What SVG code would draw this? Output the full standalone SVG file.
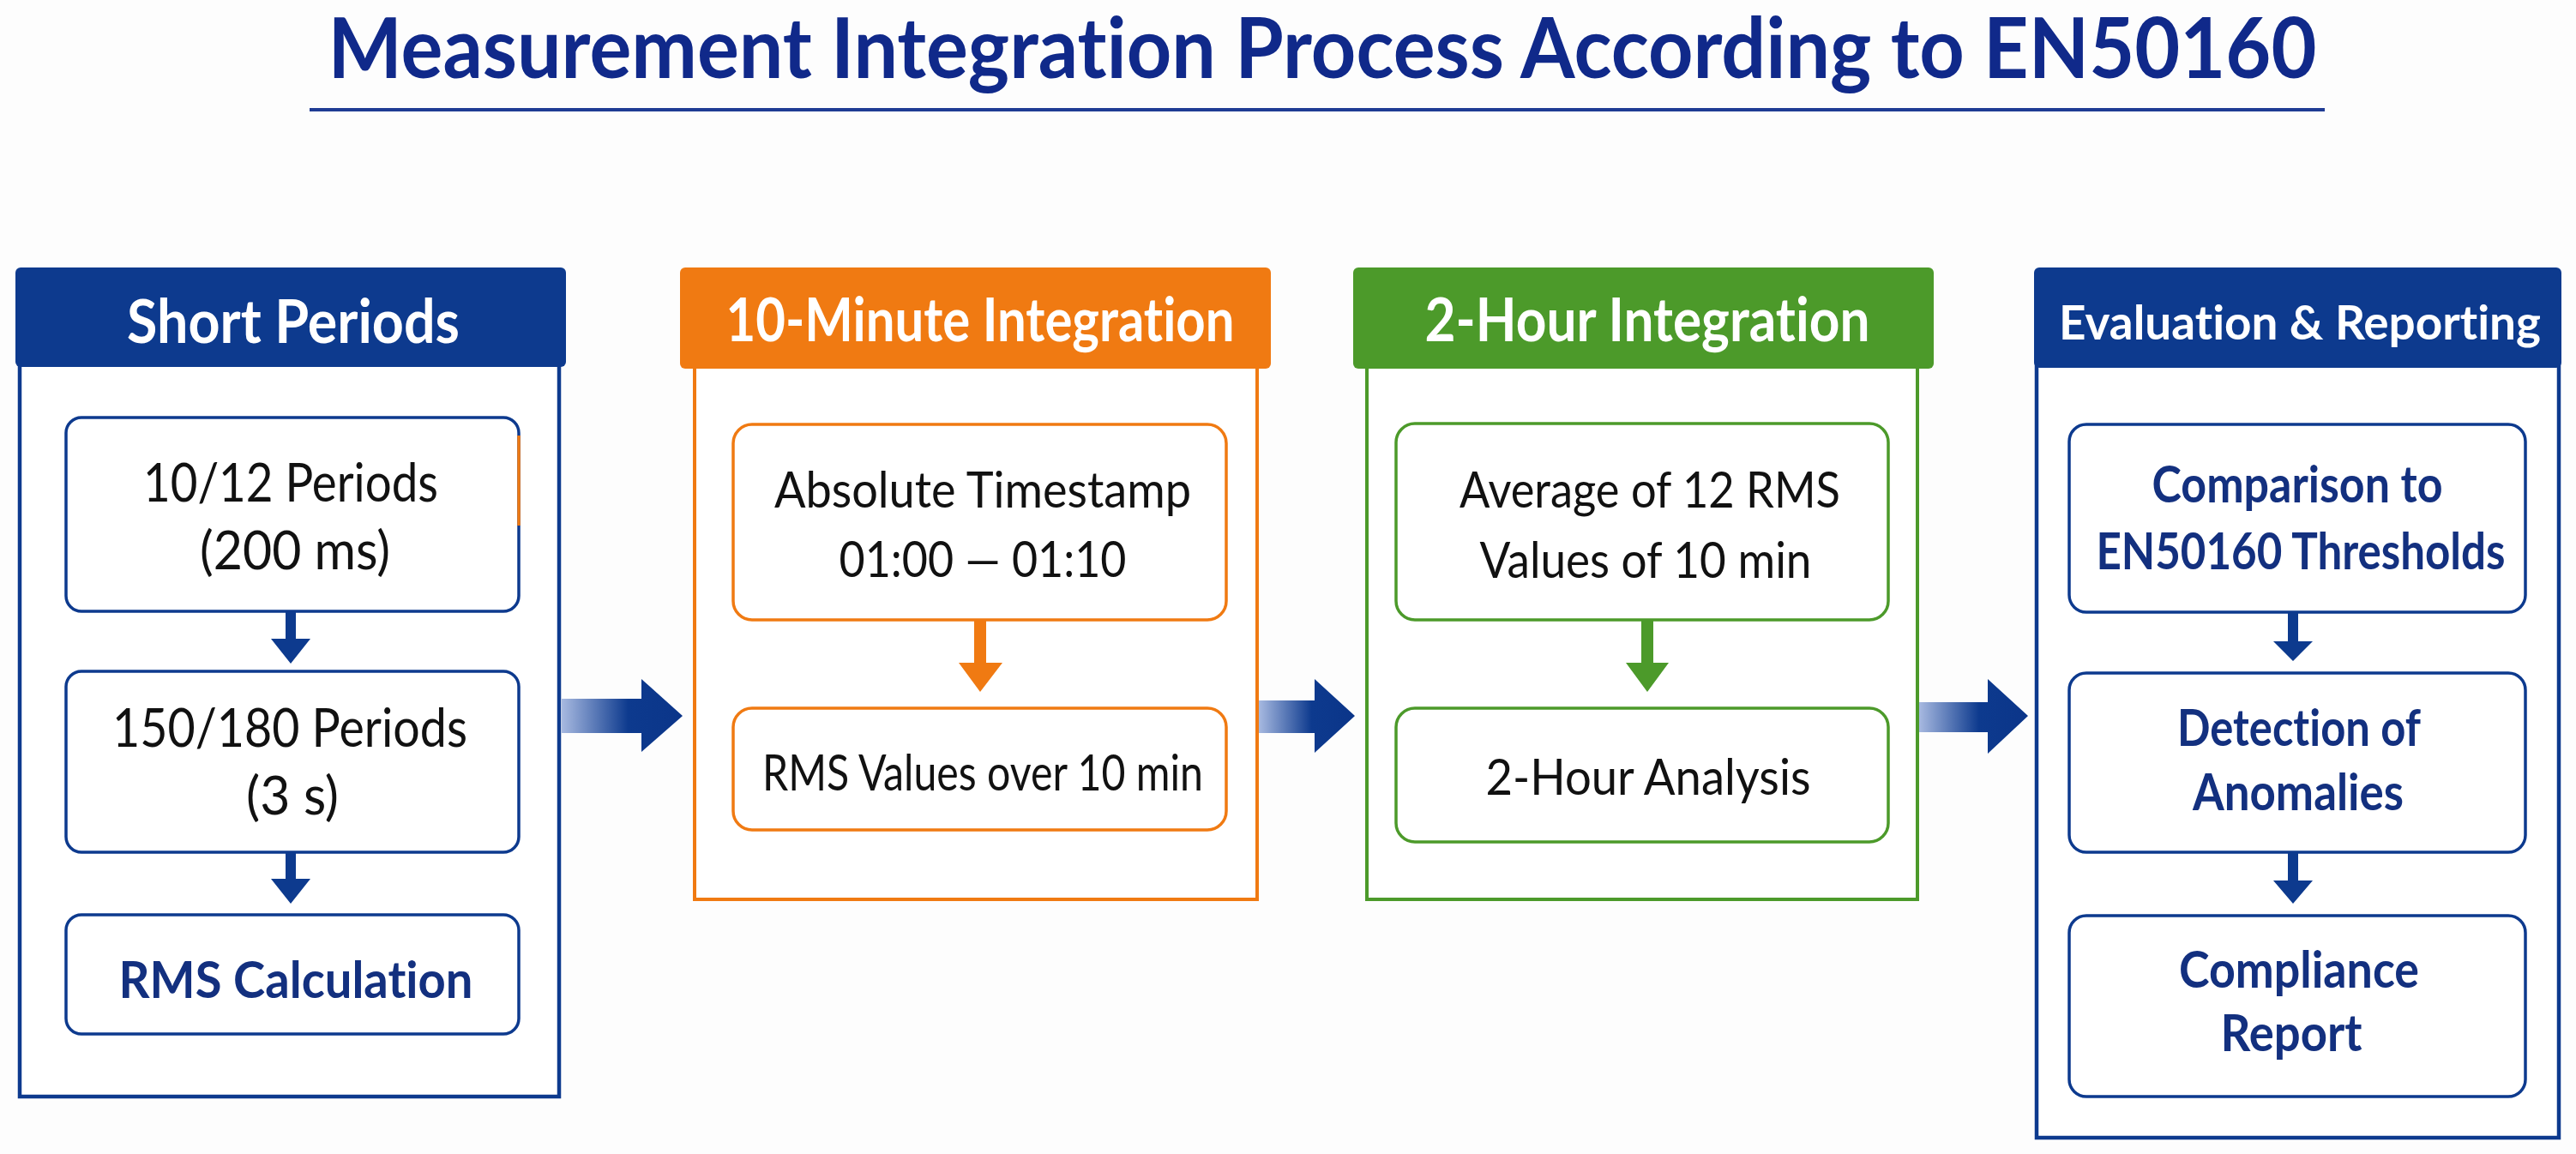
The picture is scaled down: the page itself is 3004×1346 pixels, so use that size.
<svg xmlns="http://www.w3.org/2000/svg" width="3004" height="1346" viewBox="0 0 3004 1346">
<style>
text{font-variant-ligatures:none;font-feature-settings:"liga" 0,"dlig" 0}
.title{font-family:Lato,"Open Sans","Liberation Sans",sans-serif;font-weight:700;font-size:98px;fill:#10298a;text-anchor:middle}
.hdr{font-family:Lato,"Open Sans","Liberation Sans",sans-serif;font-weight:700;font-size:70px;fill:#ffffff;text-anchor:middle}
.hdr2{font-family:Lato,"Open Sans","Liberation Sans",sans-serif;font-weight:700;font-size:55px;fill:#ffffff;text-anchor:middle}
.t{font-family:Lato,"Open Sans","Liberation Sans",sans-serif;font-weight:400;font-size:62px;fill:#111111;text-anchor:middle}
.t2{font-family:Lato,"Open Sans","Liberation Sans",sans-serif;font-weight:400;font-size:58px;fill:#111111;text-anchor:middle}
.tb{font-family:Lato,"Open Sans","Liberation Sans",sans-serif;font-weight:700;font-size:60px;fill:#13307f;text-anchor:middle}
.bluebody{fill:#ffffff;stroke:#0d3a8e;stroke-width:4.5}
.bluebox{fill:#ffffff;stroke:#0d3a8e;stroke-width:3.5}
.orbody{fill:#ffffff;stroke:#f07a12;stroke-width:4}
.orbox{fill:#ffffff;stroke:#f07a12;stroke-width:3.5}
.grbody{fill:#ffffff;stroke:#4c9a2a;stroke-width:4}
.grbox{fill:#ffffff;stroke:#4c9a2a;stroke-width:3.5}
.bluefill{fill:#0d3a8e}
.orfill{fill:#f07a12}
.grfill{fill:#4c9a2a}
.bigarrow{fill:url(#ag)}
</style>
<defs>
<linearGradient id="ag" x1="0" y1="0" x2="1" y2="0">
<stop offset="0" stop-color="#a7b9e0"/>
<stop offset="0.55" stop-color="#0d3a8e"/>
<stop offset="1" stop-color="#0b3589"/>
</linearGradient>
</defs>
<rect x="0" y="0" width="3004" height="1346" fill="#fdfdfd"/>
<g id="title">
<text class="title" x="1542" y="91" textLength="2319" lengthAdjust="spacingAndGlyphs">Measurement Integration Process According to EN50160</text>
<rect x="361" y="126" width="2350" height="4" fill="#1f3c94"/>
</g>
<g id="col-short-periods">
<rect class="bluebody" x="23" y="420" width="629" height="859"/>
<rect class="bluefill" x="18" y="312" width="642" height="116" rx="6"/>
<text class="hdr" x="342" y="400" textLength="388" lengthAdjust="spacingAndGlyphs">Short Periods</text>
<g id="n-10-12">
<rect class="bluebox" x="77" y="487" width="528" height="226" rx="18"/>
<line x1="605" y1="508" x2="605" y2="613" stroke="#f07a12" stroke-width="3.5"/>
<text class="t" x="339" y="585" textLength="344" lengthAdjust="spacingAndGlyphs">10/12 Periods</text>
<text class="t" x="344" y="664" textLength="222" lengthAdjust="spacingAndGlyphs">(200 ms)</text>
</g>
<g id="n-150-180">
<rect class="bluebox" x="77" y="783" width="528" height="211" rx="18"/>
<text class="t" x="338" y="871" textLength="414" lengthAdjust="spacingAndGlyphs">150/180 Periods</text>
<text class="t" x="341" y="950" textLength="108" lengthAdjust="spacingAndGlyphs">(3 s)</text>
</g>
<g id="n-rms-calc">
<rect class="bluebox" x="77" y="1067" width="528" height="139" rx="18"/>
<text class="tb" x="345" y="1164" textLength="413" lengthAdjust="spacingAndGlyphs">RMS Calculation</text>
</g>
</g>
<g id="col-10min">
<rect class="orbody" x="810" y="420" width="656" height="629"/>
<rect class="orfill" x="793" y="312" width="689" height="118" rx="6"/>
<text class="hdr" x="1143" y="398" textLength="593" lengthAdjust="spacingAndGlyphs">10-Minute Integration</text>
<g id="n-abs-ts">
<rect class="orbox" x="855" y="495" width="575" height="228" rx="22"/>
<text class="t2" x="1146" y="592" textLength="486" lengthAdjust="spacingAndGlyphs">Absolute Timestamp</text>
<text class="t2" x="1146" y="673" textLength="335" lengthAdjust="spacingAndGlyphs">01:00 — 01:10</text>
</g>
<g id="n-rms-10">
<rect class="orbox" x="855" y="826" width="575" height="142" rx="22"/>
<text class="t2" x="1146" y="922" textLength="514" lengthAdjust="spacingAndGlyphs">RMS Values over 10 min</text>
</g>
</g>
<g id="col-2h">
<rect class="grbody" x="1594" y="420" width="642" height="629"/>
<rect class="grfill" x="1578" y="312" width="677" height="118" rx="6"/>
<text class="hdr" x="1921" y="398" textLength="519" lengthAdjust="spacingAndGlyphs">2-Hour Integration</text>
<g id="n-avg">
<rect class="grbox" x="1628" y="494" width="574" height="229" rx="22"/>
<text class="t2" x="1924" y="592" textLength="444" lengthAdjust="spacingAndGlyphs">Average of 12 RMS</text>
<text class="t2" x="1919" y="674" textLength="387" lengthAdjust="spacingAndGlyphs">Values of 10 min</text>
</g>
<g id="n-2h-analysis">
<rect class="grbox" x="1628" y="826" width="574" height="156" rx="22"/>
<text class="t2" x="1922" y="927" textLength="379" lengthAdjust="spacingAndGlyphs">2-Hour Analysis</text>
</g>
</g>
<g id="col-eval">
<rect class="bluebody" x="2375" y="420" width="609" height="907"/>
<rect class="bluefill" x="2372" y="312" width="615" height="117" rx="6"/>
<text class="hdr2" x="2682" y="396" textLength="562" lengthAdjust="spacingAndGlyphs">Evaluation &amp; Reporting</text>
<g id="n-compare">
<rect class="bluebox" x="2413" y="495" width="532" height="219" rx="20"/>
<text class="tb" x="2679" y="586" textLength="339" lengthAdjust="spacingAndGlyphs">Comparison to</text>
<text class="tb" x="2683" y="664" textLength="477" lengthAdjust="spacingAndGlyphs">EN50160 Thresholds</text>
</g>
<g id="n-detect">
<rect class="bluebox" x="2413" y="785" width="532" height="209" rx="20"/>
<text class="tb" x="2681" y="870" textLength="284" lengthAdjust="spacingAndGlyphs">Detection of</text>
<text class="tb" x="2680" y="945" textLength="246" lengthAdjust="spacingAndGlyphs">Anomalies</text>
</g>
<g id="n-report">
<rect class="bluebox" x="2413" y="1068" width="532" height="211" rx="20"/>
<text class="tb" x="2681" y="1152" textLength="280" lengthAdjust="spacingAndGlyphs">Compliance</text>
<text class="tb" x="2672" y="1226" textLength="165" lengthAdjust="spacingAndGlyphs">Report</text>
</g>
</g>
<g id="connectors">
<polygon class="bluefill" points="333,713 345,713 345,745 362,745 339,774 316,745 333,745"/>
<polygon class="bluefill" points="333,994 345,994 345,1025 362,1025 339,1054 316,1025 333,1025"/>
<polygon class="orfill" points="1136,723 1150,723 1150,773 1169,773 1143,807 1118,773 1136,773"/>
<polygon class="grfill" points="1914,723 1928,723 1928,773 1946,773 1921,807 1896,773 1914,773"/>
<polygon class="bluefill" points="2668,714 2680,714 2680,748 2697,748 2674,771 2651,748 2668,748"/>
<polygon class="bluefill" points="2668,994 2680,994 2680,1027 2697,1027 2674,1054 2651,1027 2668,1027"/>
<polygon class="bigarrow" points="655,815 748,815 748,792 796,835 748,877 748,855 655,855"/>
<polygon class="bigarrow" points="1468,817 1533,817 1533,792 1580,835 1533,878 1533,855 1468,855"/>
<polygon class="bigarrow" points="2238,819 2318,819 2318,792 2365,835 2318,879 2318,854 2238,854"/>
</g>
</svg>
